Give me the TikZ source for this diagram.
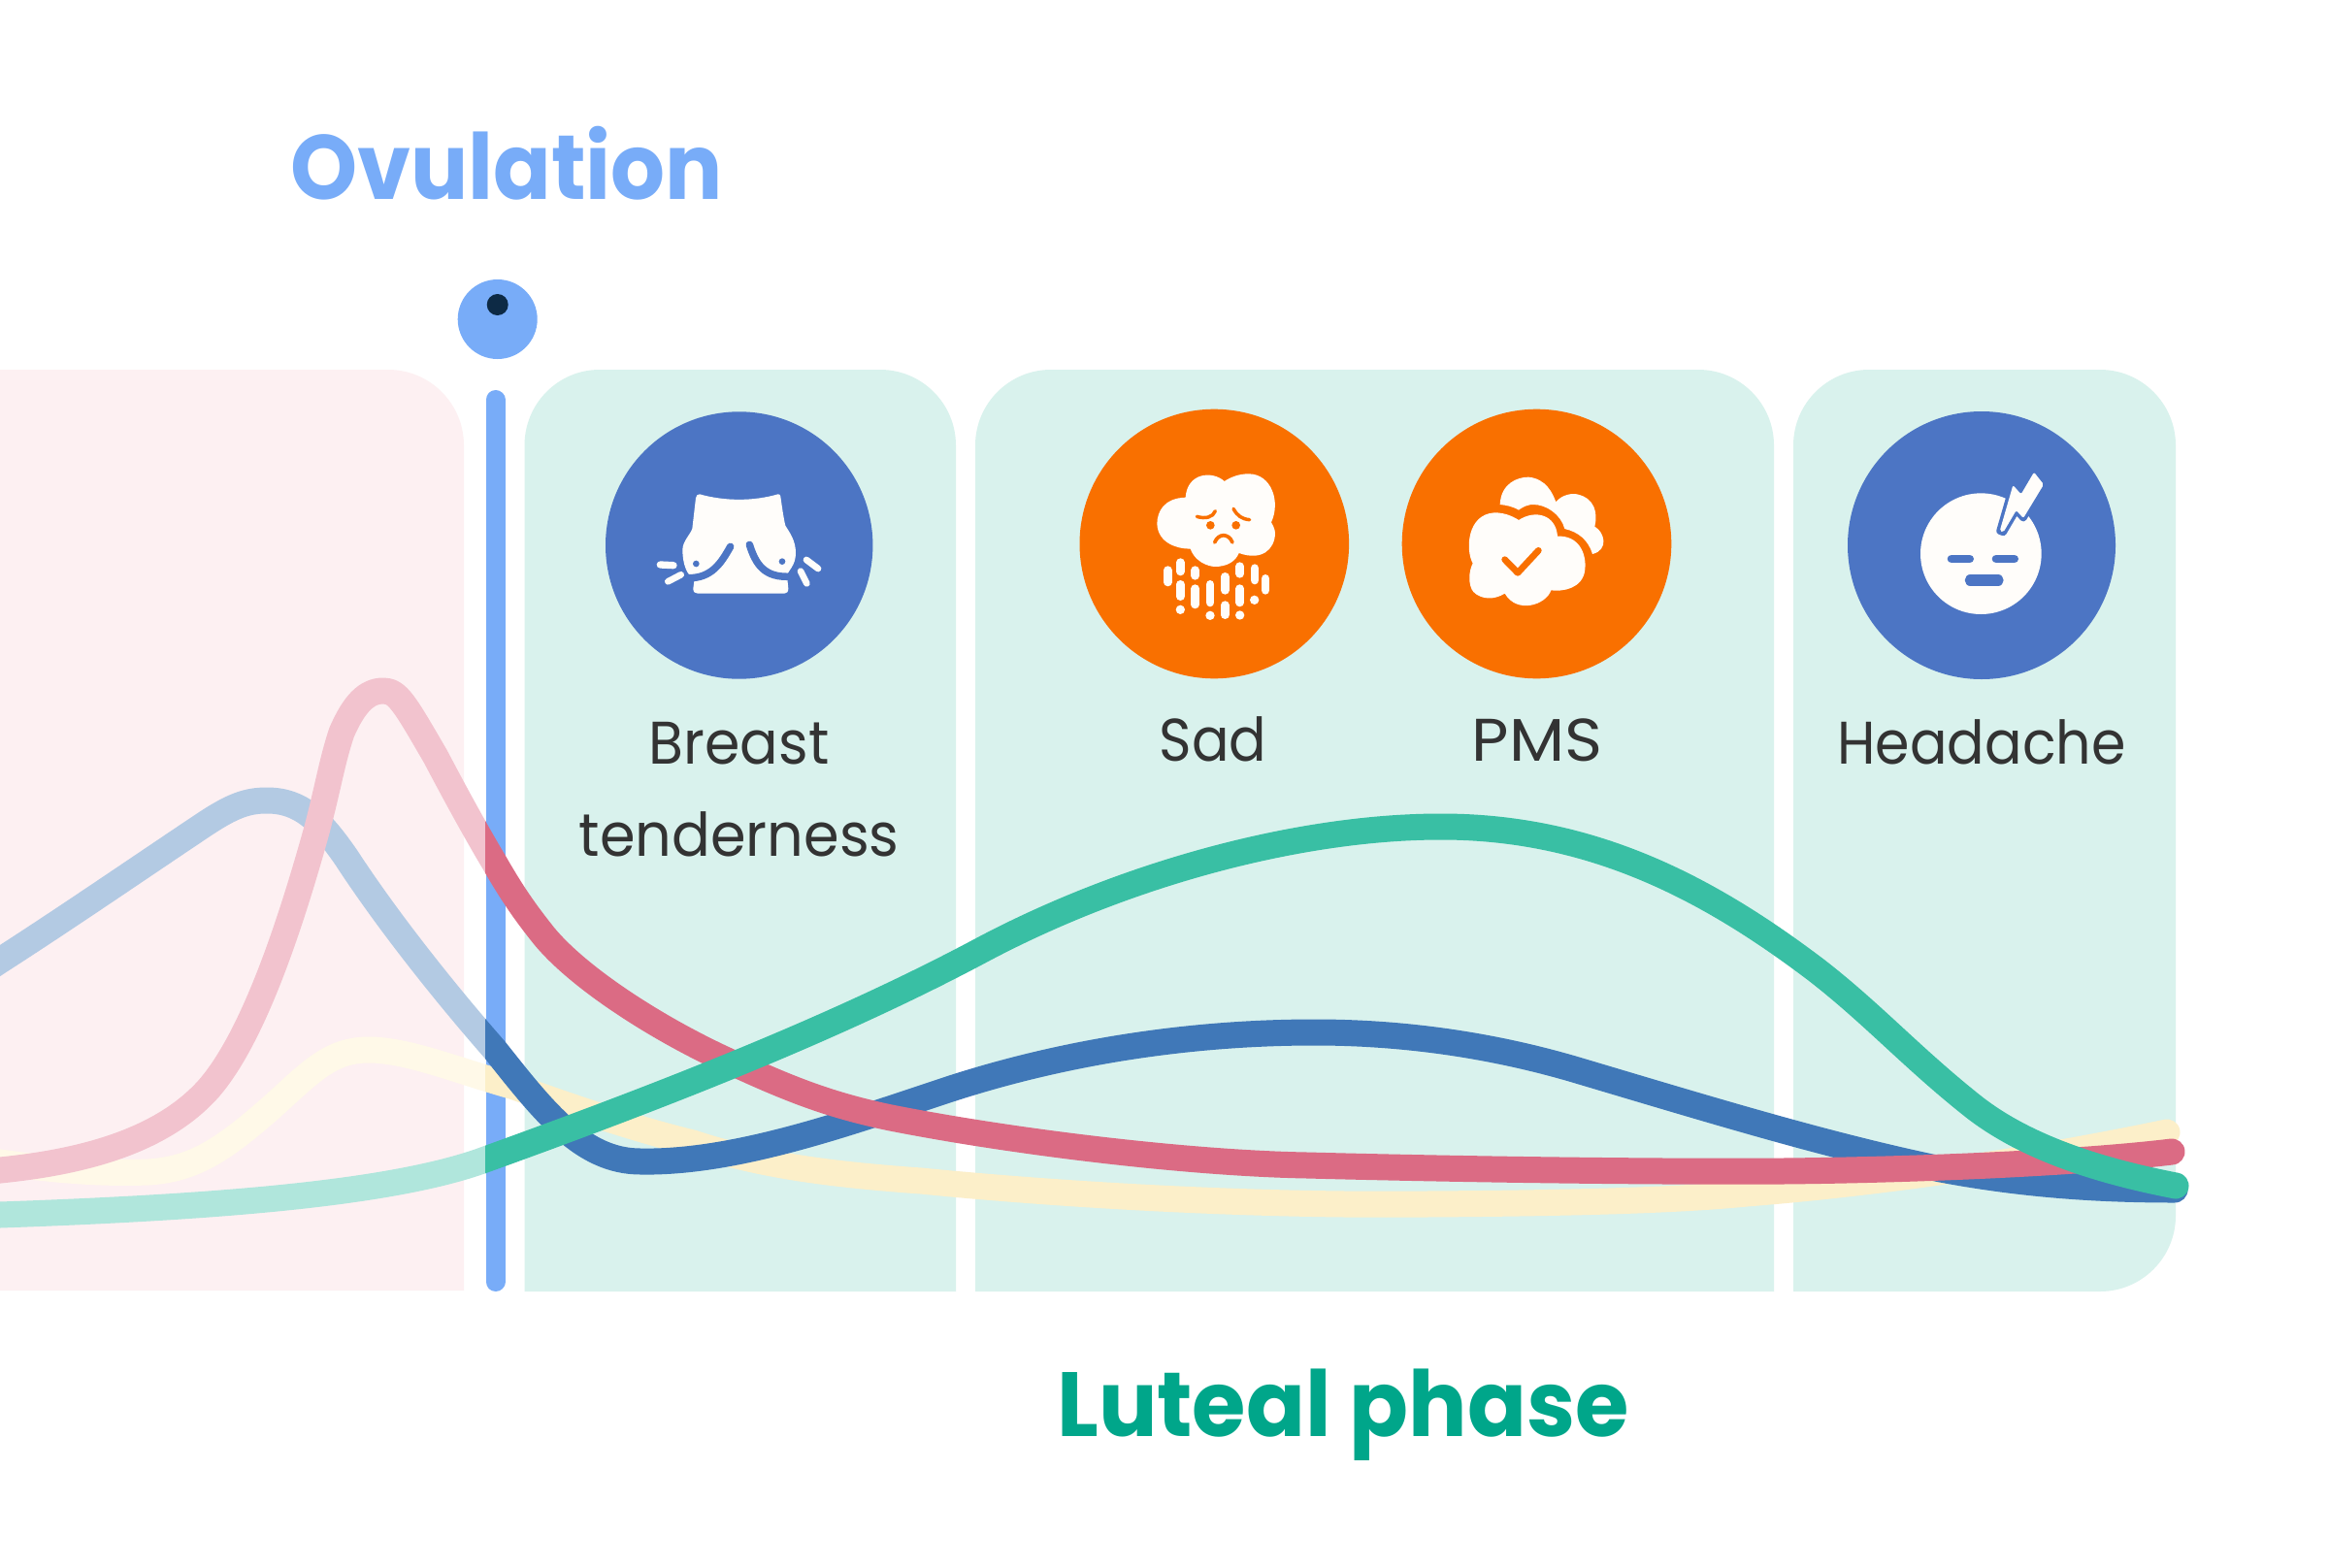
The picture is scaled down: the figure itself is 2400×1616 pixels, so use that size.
\documentclass[tikz,border=0pt]{standalone}
\usepackage{fontspec}
\setmainfont{Poppins}
\definecolor{panelg}{HTML}{D9F2ED}
\definecolor{panelp}{HTML}{FDF0F2}
\definecolor{barb}{HTML}{78ACF8}
\definecolor{dotd}{HTML}{0D2A45}
\definecolor{circb}{HTML}{4C75C4}
\definecolor{circo}{HTML}{F97000}
\definecolor{iconw}{HTML}{FFFDFA}
\definecolor{cblue}{HTML}{4078B8}
\definecolor{cpink}{HTML}{DB6B84}
\definecolor{ccream}{HTML}{FCEFC9}
\definecolor{cgreen}{HTML}{39BFA4}
\definecolor{pblue}{HTML}{B3CAE3}
\definecolor{ppink}{HTML}{F2C3CE}
\definecolor{pcream}{HTML}{FFF9E8}
\definecolor{pgreen}{HTML}{B0E6DC}
\definecolor{labelc}{HTML}{333333}
\definecolor{lutealc}{HTML}{00A68A}
\newcommand*\crvgreen{(-30,1253) -- (0,1252) .. controls (200,1245) and (400,1232) .. (500,1195) .. controls (680,1130) and (860,1060) .. (1010,980) .. controls (1160,900) and (1340,852) .. (1485,852) .. controls (1640,852) and (1760,915) .. (1872,1000) .. controls (1930,1045) and (1970,1090) .. (2033,1140) .. controls (2090,1185) and (2170,1208) .. (2242,1222)}
\newcommand*\crvblue{(-30,1010) -- (0,990) .. controls (70,945) and (150,890) .. (210,850) .. controls (240,830) and (255,825) .. (275,825) .. controls (310,825) and (330,845) .. (357,884) .. controls (400,950) and (460,1025) .. (510,1082) .. controls (560,1145) and (600,1197) .. (660,1197) .. controls (760,1199) and (880,1155) .. (980,1122) .. controls (1110,1080) and (1240,1064) .. (1355,1064) .. controls (1450,1064) and (1540,1078) .. (1622,1102) .. controls (1760,1143) and (1880,1180) .. (2000,1205) .. controls (2090,1222) and (2170,1226) .. (2241,1226)}
\newcommand*\crvpink{(-30,1210) -- (0,1206) .. controls (80,1198) and (165,1178) .. (215,1122) .. controls (262,1068) and (300,950) .. (326,857) .. controls (338,812) and (342,785) .. (352,755) .. controls (365,725) and (378,712) .. (395,712) .. controls (410,712) and (417,725) .. (449,780) .. controls (470,820) and (492,860) .. (510,890) .. controls (530,925) and (545,945) .. (561,965) .. controls (600,1012) and (690,1068) .. (765,1100) .. controls (820,1125) and (860,1140) .. (918,1152) .. controls (1050,1178) and (1230,1199) .. (1347,1201) .. controls (1500,1205) and (1700,1208) .. (1837,1207) .. controls (1950,1206) and (2130,1200) .. (2238,1187)}
\newcommand*\crvcream{(-30,1194) -- (0,1198) .. controls (50,1205) and (100,1210) .. (153,1208) .. controls (200,1205) and (230,1185) .. (280,1141) .. controls (320,1105) and (340,1082) .. (380,1082) .. controls (420,1082) and (470,1103) .. (530,1120) .. controls (600,1145) and (660,1165) .. (714,1178) .. controls (780,1200) and (850,1210) .. (949,1217) .. controls (1100,1232) and (1300,1243) .. (1469,1241) .. controls (1620,1240) and (1730,1237) .. (1800,1230) .. controls (1900,1222) and (2050,1205) .. (2233,1167)}
\tikzset{
  curve/.style={line width=27pt,line cap=round,line join=round},
  symptom/.style={font=\fontsize{62}{62}\selectfont,text=labelc,anchor=base,inner sep=0pt},
  heading/.style={font=\bfseries\fontsize{94}{94}\selectfont,anchor=base west,inner sep=0pt},
  iconfill/.style={fill=iconw},
  rain/.style={draw=iconw,line width=8.67pt,line cap=round},
}
\begin{document}
\begin{tikzpicture}[x=1pt,y=-1pt]
\useasboundingbox (0,0) rectangle (2400,1616);
\fill[white] (0,0) rectangle (2400,1616);
% panels
\fill[panelp] (0,1330) -- (0,381) -- (400,381) .. controls (443,381) and (478,416) .. (478,459) -- (478,1330) -- cycle;
\fill[panelg] (540.5,1331) -- (540.5,459) .. controls (540.5,416) and (575,381) .. (618,381) -- (907,381) .. controls (950,381) and (985,416) .. (985,459) -- (985,1331) -- cycle;
\fill[panelg] (1005,1331) -- (1005,459) .. controls (1005,416) and (1040,381) .. (1083,381) -- (1750,381) .. controls (1793,381) and (1828,416) .. (1828,459) -- (1828,1331) -- cycle;
\fill[panelg] (1848,1331) -- (1848,459) .. controls (1848,416) and (1883,381) .. (1926,381) -- (2164,381) .. controls (2207,381) and (2242,416) .. (2242,459) -- (2242,1253) .. controls (2242,1296) and (2207,1331) .. (2164,1331) -- cycle;
% ovulation bar and dot
\draw[barb,line width=20pt,line cap=round] (510.5,412) -- (510.5,1321);
\fill[barb] (512.7,329) circle (41);
\fill[dotd] (512.7,314) circle (11);
% curves
\begin{scope}
\clip (-40,0) rectangle (500,1616);
\draw[curve,pcream] \crvcream;
\draw[curve,pblue] \crvblue;
\draw[curve,ppink] \crvpink;
\draw[curve,pgreen] \crvgreen;
\end{scope}
\begin{scope}
\clip (500,0) rectangle (2400,1616);
\draw[curve,ccream] \crvcream;
\draw[curve,cblue] \crvblue;
\draw[curve,cpink] \crvpink;
\draw[curve,cgreen] \crvgreen;
\end{scope}
% circles
\fill[circb] (761.7,562) circle (137.7);
\fill[circo] (1251.3,560.5) circle (138.8);
\fill[circo] (1583.5,560.5) circle (138.8);
\fill[circb] (2042,562) circle (138);
% breast icon
\begin{scope}[shift={(620,420)},scale=1/3]
\fill[iconfill] (303,268) .. controls (380,290) and (470,290) .. (545,268) .. controls (550,268) and (553,270) .. (553,275) .. controls (558,310) and (562,340) .. (568,365) .. controls (580,385) and (600,410) .. (600,450) .. controls (600,490) and (575,505) .. (573,520) -- (577,560) .. controls (577,570) and (572,575) .. (565,575) -- (297,575) .. controls (288,575) and (283,570) .. (283,560) -- (287,530) .. controls (262,520) and (250,480) .. (250,440) .. controls (250,415) and (272,395) .. (280,375) -- (291,280) .. controls (292,272) and (297,267) .. (303,268) -- cycle;
\draw[circb,line width=7.5pt,line cap=round] (398,430) .. controls (370,480) and (340,528) .. (268,527);
\draw[circb,line width=7.5pt,line cap=round] (457,424) .. controls (475,480) and (500,530) .. (590,522);
\fill[circb] (292,483) circle (10);
\fill[circb] (558,476) circle (10);
\draw[iconw,line width=7.3pt,line cap=round] (181,486) -- (222,488);
\draw[iconw,line width=6.7pt,line cap=round] (205,538) -- (245,517);
\draw[iconw,line width=6.7pt,line cap=round] (633,471) -- (669,498);
\draw[iconw,line width=6.7pt,line cap=round] (615,506) -- (634,544);
\end{scope}
% sad icon
\begin{scope}[shift={(1110,420)},scale=1/3]
\fill[iconfill] (335,278) .. controls (270,280) and (247,320) .. (247,360) .. controls (250,420) and (310,437) .. (350,437) .. controls (370,490) and (425,492) .. (425,492) .. controls (465,492) and (490,475) .. (500,450) .. controls (570,475) and (610,440) .. (612,390) .. controls (612,375) and (605,365) .. (600,355) .. controls (630,290) and (600,205) .. (530,205) .. controls (500,205) and (475,215) .. (455,228) .. controls (420,195) and (340,200) .. (335,278) -- cycle;
\draw[circo,line width=3.5pt,line cap=round] (370,337) .. controls (395,345) and (420,340) .. (427,320);
\draw[circo,line width=3.5pt,line cap=round] (483,313) .. controls (495,335) and (510,345) .. (533,347);
\fill[circo] (412,364) circle (13);
\fill[circo] (491,364) circle (13);
\draw[circo,line width=3.7pt,line cap=round] (425,417) .. controls (437,388) and (468,388) .. (480,417);
\foreach \rx/\rt/\rb in {280/490/553,319/466/520,365/490/533,319/534/597,365/547/622,411/534/616,457/510/578,503/478/527,549/484/547,582/516/578,503/547/616,457/598/654}
  \draw[rain] (\rx,\rt+13) -- (\rx,\rb-13);
\foreach \dx/\dy in {319/625,411/643,503/642,548/595}
  \fill[iconw] (\dx,\dy) circle (14);
\end{scope}
% PMS icon
\begin{scope}[shift={(1450,420)},scale=1/3]
\fill[iconfill] (287,300) .. controls (290,235) and (340,215) .. (375,215) .. controls (430,220) and (450,265) .. (460,292) .. controls (480,268) and (510,265) .. (525,268) .. controls (580,280) and (590,325) .. (580,368) .. controls (610,385) and (625,440) .. (573,453) .. controls (560,410) and (530,385) .. (487,375) .. controls (475,330) and (430,300) .. (390,300) .. controls (365,300) and (345,317) .. (345,317) .. controls (325,305) and (305,302) .. (287,300) -- cycle;
\fill[iconfill] (345,348) .. controls (395,315) and (460,330) .. (465,398) .. controls (530,395) and (555,450) .. (550,500) .. controls (545,560) and (480,570) .. (445,565) .. controls (430,610) and (340,640) .. (302,575) .. controls (270,595) and (230,595) .. (205,570) .. controls (188,550) and (190,505) .. (203,482) .. controls (180,440) and (185,330) .. (270,325) .. controls (300,325) and (325,335) .. (345,348) -- cycle;
\draw[circo,line width=6.7pt,line cap=round,line join=round] (302,470) -- (342,511) -- (406,442);
\end{scope}
% headache icon
\begin{scope}[shift={(1910,420)},scale=1/3]
\fill[iconw] (394,452) circle (187);
\draw[circb,line width=8.7pt,line cap=round] (303,468) -- (359,468);
\draw[circb,line width=8.7pt,line cap=round] (441,468) -- (497,468);
\draw[circb,line width=11.3pt,line cap=round] (361,534) -- (447,534);
\filldraw[fill=iconw,draw=circb,line width=7pt,line join=round] (493,240) -- (518,268) -- (558,200) -- (588,238) -- (525,342) -- (503,318) -- (463,386) -- (452,382) -- cycle;
\fill[iconw,rounded corners=2pt] (493,240) -- (518,268) -- (558,200) -- (588,238) -- (525,342) -- (503,318) -- (463,386) -- (452,382) -- cycle;
\end{scope}
% labels
\node[heading,text=barb] (ovulation) at (299,205) {\scalebox{.935}[1]{Ovulation}};
\node[heading,text=lutealc] (luteal) at (1089,1480) {\scalebox{.955}[1]{Luteal phase}};
\node[symptom] (breast) at (761.7,787) {\scalebox{.945}[1]{Breast}};
\node[symptom] (tender) at (761.7,882) {\scalebox{.95}[1]{tenderness}};
\node[symptom] (sad) at (1250,784) {\scalebox{.92}[1]{Sad}};
\node[symptom] (pms) at (1584,784) {\scalebox{1.07}[1]{PMS}};
\node[symptom] (headache) at (2042,787) {\scalebox{.92}[1]{Headache}};
\end{tikzpicture}
\end{document}
